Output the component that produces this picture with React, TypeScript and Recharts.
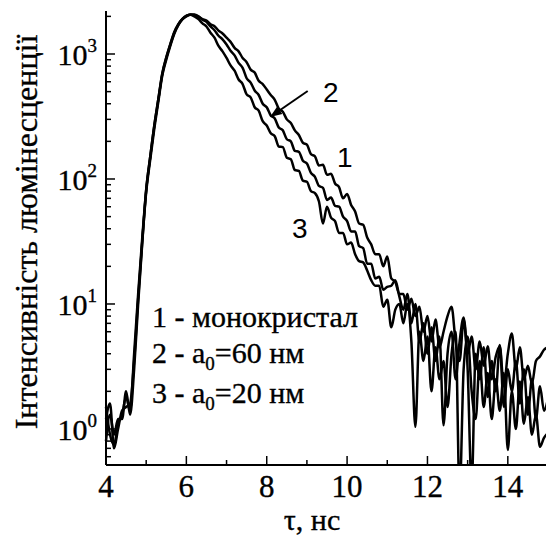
import { LineChart, Line, XAxis, YAxis, ReferenceLine } from "recharts";

// time axis, ns
const tau = [
  4.0, 4.1, 4.2, 4.3, 4.4, 4.5, 4.6, 4.7, 4.8, 4.9,
  5.0, 5.1, 5.2, 5.3, 5.4, 5.5, 5.6, 5.7, 5.8, 5.9,
  6.0, 6.1, 6.2, 6.3, 6.4, 6.5, 6.6, 6.7, 6.8, 6.9,
  7.0, 7.1, 7.2, 7.3, 7.4, 7.5, 7.6, 7.7, 7.8, 7.9,
  8.0, 8.1, 8.2, 8.3, 8.4, 8.5, 8.6, 8.7, 8.8, 8.9,
  9.0, 9.1, 9.2, 9.3, 9.4, 9.5, 9.6, 9.7, 9.8, 9.9,
  10.0, 10.1, 10.2, 10.3, 10.4, 10.5, 10.6, 10.7, 10.8, 10.9,
  11.0, 11.1, 11.2, 11.3, 11.4, 11.5, 11.6, 11.7, 11.8, 11.9,
  12.0, 12.1, 12.2, 12.3, 12.4, 12.5, 12.6, 12.7, 12.8, 12.9,
  13.0, 13.1, 13.2, 13.3, 13.4, 13.5, 13.6, 13.7, 13.8, 13.9,
  14.0, 14.1, 14.2, 14.3, 14.4, 14.5, 14.6, 14.7, 14.8, 14.9,
  15.0,
];

// 1 - монокристал
const mono = [
  1.5, 0.9, 0.75, 1.1, 1.3, 1.8, 1.4, 4, 12, 33,
  82, 150, 265, 430, 690, 930, 1190, 1480, 1720, 1900,
  2010, 2060, 2050, 1990, 1900, 1850, 1730, 1670, 1540, 1460,
  1350, 1250, 1120, 1050, 930, 860, 750, 710, 610, 575,
  520, 470, 430, 365, 345, 300, 280, 245, 225, 195,
  188, 158, 152, 128, 130, 108, 110, 92, 86, 70,
  76, 62, 55, 44, 43, 34, 30, 25, 25, 20,
  24, 16, 15, 12, 12, 9, 11, 8, 9.5, 6,
  8, 5, 7.5, 4.5, 6, 8, 9.5, 5, 3.5, 7.5,
  4, 5.5, 3, 5, 3.2, 4.6, 2.5, 3.8, 4.6, 2.2,
  4, 5.8, 3, 4.5, 2.5, 3.2, 2.3, 3.5, 3.8, 4.3,
  4.5,
];

// 2 - a0 = 60 нм
const a60 = [
  1.2, 1.6, 0.7, 1.0, 1.4, 1.5, 1.6, 3.5, 11, 31,
  78, 142, 250, 410, 670, 900, 1160, 1450, 1700, 1890,
  2000, 2070, 2070, 2000, 1880, 1810, 1660, 1550, 1400, 1310,
  1190, 1060, 975, 850, 775, 640, 590, 510, 470, 400,
  375, 322, 305, 258, 245, 208, 200, 168, 165, 140,
  133, 112, 104, 88, 85, 68, 71, 61, 60, 50,
  46, 38, 38, 29, 28, 21, 21, 16, 16.5, 13,
  13.7, 14, 15.5, 11.5, 9, 12, 7, 10, 5, 7,
  4, 6.5, 3.5, 5.5, 1.07, 4, 6, 2.5, 5, 7.8,
  3, 0.35, 4, 2.5, 4.5, 1.8, 3.5, 2, 4.7, 1.5,
  3, 2, 3.5, 1.6, 3, 1.3, 2.5, 1.2, 2.2, 1.4,
  1.75,
];

// 3 - a0 = 20 нм
const a20 = [
  0.8, 1.3, 0.9, 1.2, 1.2, 2.0, 1.3, 3, 10, 30,
  82, 150, 265, 430, 700, 940, 1200, 1500, 1730, 1910,
  2030, 2060, 2000, 1900, 1760, 1660, 1480, 1350, 1160, 1050,
  930, 810, 735, 625, 575, 475, 450, 375, 352, 290,
  268, 232, 220, 182, 180, 148, 144, 118, 116, 97,
  95, 80, 77, 66, 44, 60, 49, 46, 37, 37,
  30, 31, 25, 22, 21.5, 18.5, 15.5, 14, 14, 9.5,
  10.8, 6.5, 9, 10, 7, 10, 5, 1.04, 6, 3.5,
  5.5, 2, 4.5, 2.5, 3.5, 1.5, 4, 6, 0.3, 3,
  5.5, 2, 1.2, 3.5, 1.5, 2.8, 1.2, 2.5, 1.4, 2.8,
  0.68, 2, 1, 2.4, 1.1, 1.8, 0.9, 1.3, 0.72, 0.85,
  0.93,
];

const xTicks = [4, 5, 6, 7, 8, 9, 10, 11, 12, 13, 14, 15];
const yTicks = [
  0.6, 0.7, 0.8, 0.9,
  1, 2, 3, 4, 5, 6, 7, 8, 9,
  10, 20, 30, 40, 50, 60, 70, 80, 90,
  100, 200, 300, 400, 500, 600, 700, 800, 900,
  1000, 2000,
];

const data = tau.map((t, i) => ({ t, c1: mono[i], c2: a60[i], c3: a20[i] }));

const serif = "'Liberation Serif', 'Times New Roman', serif";
const sans = "'Liberation Sans', Arial, sans-serif";
// the reference type is a little heavier than a plain render
const heavy = { stroke: "#000", strokeWidth: 0.35 };

function YTick(props: any) {
  const { x, y, payload } = props;
  const p = Math.log10(payload.value);
  const major = Math.abs(p - Math.round(p)) < 1e-9;
  return (
    <g>
      <line x1={x} x2={x + (major ? 9 : 5)} y1={y} y2={y} stroke="#000" strokeWidth={1.5} />
      {major && (
        <text x={x - 9} y={y + 11} textAnchor="end" fontFamily={serif} fontSize={30} fill="#000" {...heavy}>
          10<tspan dy={-13} fontSize={19}>{Math.round(p)}</tspan>
        </text>
      )}
    </g>
  );
}

function XTick(props: any) {
  const { x, y, payload } = props;
  const major = payload.value % 2 === 0;
  return (
    <g>
      <line x1={x} x2={x} y1={y} y2={y - (major ? 9 : 5)} stroke="#000" strokeWidth={1.5} />
      {major && (
        <text x={x} y={y + 32} textAnchor="middle" fontFamily={serif} fontSize={31} fill="#000" {...heavy}>
          {payload.value}
        </text>
      )}
    </g>
  );
}

function Arrow(props: any) {
  const { x1, y1, x2, y2 } = props;
  const dx = x2 - x1;
  const dy = y2 - y1;
  const len = Math.sqrt(dx * dx + dy * dy) || 1;
  const ux = dx / len;
  const uy = dy / len;
  const bx = x2 - ux * 12;
  const by = y2 - uy * 12;
  const head = `${x2},${y2} ${bx - uy * 4.5},${by + ux * 4.5} ${bx + uy * 4.5},${by - ux * 4.5}`;
  return (
    <g>
      <line x1={x1} y1={y1} x2={bx} y2={by} stroke="#000" strokeWidth={2} />
      <polygon points={head} fill="#000" />
    </g>
  );
}

export default function App() {
  return (
    <div style={{ position: "absolute", left: 0, top: 0, width: 546, height: 539, overflow: "hidden", background: "#fff" }}>
      <LineChart width={548} height={539} data={data} margin={{ top: 11, right: 0, bottom: 0, left: 0 }}>
        <XAxis
          dataKey="t"
          type="number"
          domain={[4, 15]}
          ticks={xTicks}
          interval={0}
          height={74}
          tickSize={0}
          tickMargin={0}
          tickLine={false}
          tick={<XTick />}
          axisLine={{ stroke: "#000", strokeWidth: 2 }}
        />
        <XAxis
          xAxisId="top"
          dataKey="t"
          type="number"
          domain={[4, 15]}
          orientation="top"
          height={0}
          tick={false}
          tickLine={false}
          axisLine={{ stroke: "#000", strokeWidth: 2 }}
        />
        <YAxis
          scale="log"
          type="number"
          domain={[0.515, 2208]}
          allowDataOverflow
          ticks={yTicks}
          interval={0}
          width={106}
          tickSize={0}
          tickMargin={0}
          tickLine={false}
          tick={<YTick />}
          axisLine={{ stroke: "#000", strokeWidth: 2 }}
        />
        <Line type="monotone" dataKey="c1" stroke="#000" strokeWidth={2.5} dot={false} isAnimationActive={false} />
        <Line type="monotone" dataKey="c2" stroke="#000" strokeWidth={2.5} dot={false} isAnimationActive={false} />
        <Line type="monotone" dataKey="c3" stroke="#000" strokeWidth={2.5} dot={false} isAnimationActive={false} />
        <ReferenceLine
          segment={[{ x: 9.02, y: 506 }, { x: 8.08, y: 313 }]}
          ifOverflow="visible"
          shape={(p: any) => <Arrow {...p} />}
        />
      </LineChart>
      <svg width={546} height={539} style={{ position: "absolute", left: 0, top: 0, pointerEvents: "none" }}>
        <text transform="translate(37,232) rotate(-90)" textAnchor="middle" fontFamily={serif} fontSize={32} fill="#000" {...heavy}>
          Інтенсивність люмінесценції
        </text>
        <text x={312} y={530} textAnchor="middle" fontFamily={serif} fontSize={30} fill="#000" {...heavy}>
          τ, нс
        </text>
        <g fontFamily={serif} fontSize={30} fill="#000" {...heavy}>
          <text x={152} y={327}>1 - монокристал</text>
          <text x={152} y={363}>
            2 - a<tspan dy={7} fontSize={19}>0</tspan>
            <tspan dy={-7}>=60 нм</tspan>
          </text>
          <text x={152} y={403}>
            3 - a<tspan dy={7} fontSize={19}>0</tspan>
            <tspan dy={-7}>=20 нм</tspan>
          </text>
        </g>
        <g fontFamily={sans} fontSize={28} fill="#000">
          <text x={323} y={102}>2</text>
          <text x={337} y={167}>1</text>
          <text x={292} y={238}>3</text>
        </g>
      </svg>
    </div>
  );
}
